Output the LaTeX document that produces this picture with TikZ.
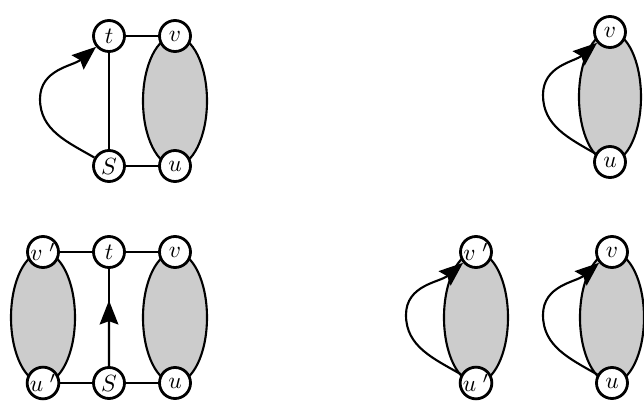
\documentclass[tikz,border=0pt]{standalone}
\usetikzlibrary{arrows.meta,calc}
\begin{document}
\begin{tikzpicture}[x=0.015cm,y=0.015cm,
  vtx/.style={circle,draw,line width=1.2pt,fill=white,minimum size=0.465cm,inner sep=0pt,font=\normalsize},
  edge/.style={line width=0.9pt},
  blob/.style={draw,line width=0.9pt,fill=black!20},
  headtip/.style={-{Stealth[length=3.6mm,width=2.8mm,inset=0.5mm]}},
  arcarrow/.style={edge,headtip}]
\useasboundingbox (0,0) rectangle (644,401);

% upper left: s-t with a detour, blob between u and v
\filldraw[blob] (175,300) ellipse (32 and 65);
\node[vtx] (t1) at (109,365) {$t$};
\node[vtx] (v1) at (175,365) {$v$};
\node[vtx] (s1) at (109,235) {$S$};
\node[vtx] (u1) at (175,235) {$u$};
\coordinate (w1) at (40,302);
\draw[edge] (t1) -- (v1);
\draw[edge] (s1) -- (u1);
\draw[edge] (s1) -- (t1);
\draw[arcarrow] (s1) to[out=150,in=270] (w1) to[out=90,in=220] (t1);

% upper right: single blob with its arc
\filldraw[blob] (610,304) ellipse (31 and 65);
\node[vtx] (v2) at (610,369) {$v$};
\node[vtx] (u2) at (610,239) {$u$};
\coordinate (w2) at (543,306);
\draw[arcarrow] (u2) to[out=150,in=270] (w2) to[out=90,in=220] (v2);

% lower left: two blobs joined through s and t
\filldraw[blob] (43,83.5) ellipse (32 and 65.5);
\filldraw[blob] (175,83.5) ellipse (32 and 65.5);
\node[vtx] (vp3) at (43,149) {$v\;'$};
\node[vtx] (t3) at (109,149) {$t$};
\node[vtx] (v3) at (175,149) {$v$};
\node[vtx] (up3) at (43,18) {$u\;'$};
\node[vtx] (s3) at (109,18) {$S$};
\node[vtx] (u3) at (175,18) {$u$};
\draw[edge] (vp3) -- (t3);
\draw[edge] (t3) -- (v3);
\draw[edge] (up3) -- (s3);
\draw[edge] (s3) -- (u3);
\draw[edge] (s3) -- (t3);
\coordinate (mid3) at ($(s3)!0.63!(t3)$);
\draw[edge,headtip] (s3) -- (mid3);

% lower right: two separate blobs with arcs
\filldraw[blob] (476,83.5) ellipse (32 and 65.5);
\filldraw[blob] (612,83.5) ellipse (32 and 65.5);
\node[vtx] (vp4) at (476,149) {$v\;'$};
\node[vtx] (up4) at (476,18) {$u\;'$};
\node[vtx] (v4) at (612,149) {$v$};
\node[vtx] (u4) at (612,18) {$u$};
\coordinate (w4) at (406,86);
\coordinate (w5) at (543,86);
\draw[arcarrow] (up4) to[out=150,in=270] (w4) to[out=90,in=220] (vp4);
\draw[arcarrow] (u4) to[out=150,in=270] (w5) to[out=90,in=220] (v4);
\end{tikzpicture}
\end{document}
